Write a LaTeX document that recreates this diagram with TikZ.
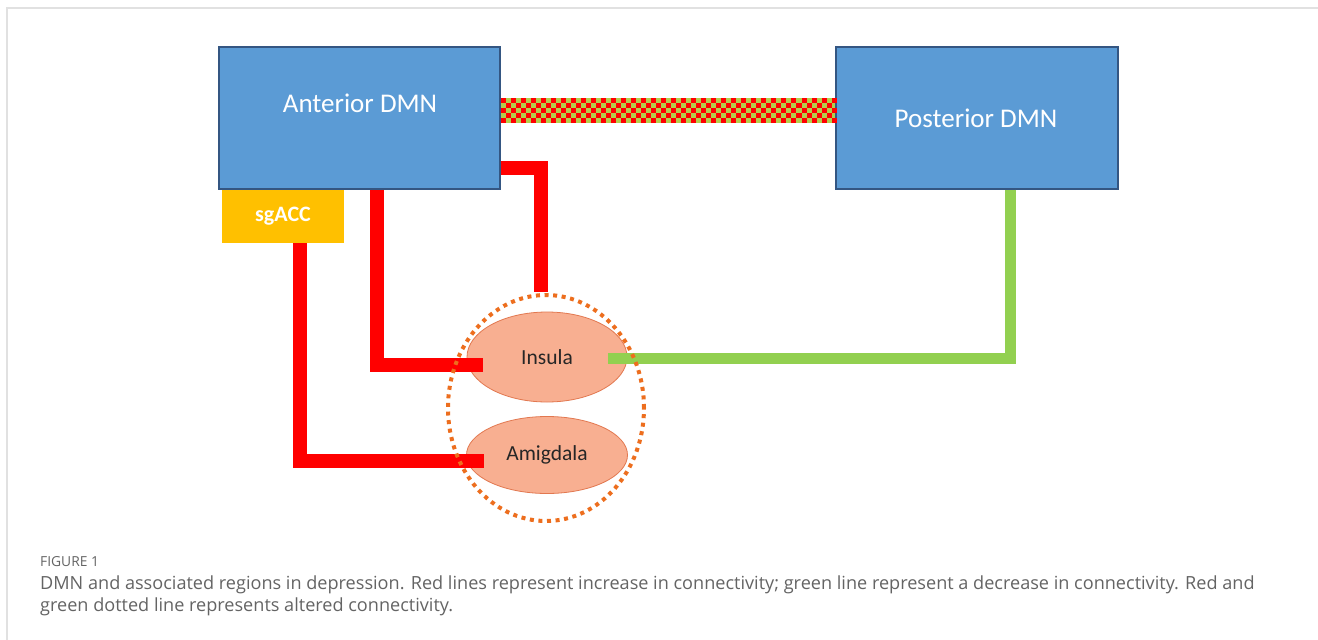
\documentclass[tikz,border=0pt]{standalone}
\usepackage{fontspec}
\setmainfont{Carlito}
\newfontfamily\capfont{Open Sans}
\usetikzlibrary{shapes.geometric,calc}
\definecolor{boxblue}{RGB}{91,155,213}
\definecolor{boxedge}{RGB}{52,86,130}
\definecolor{sgyellow}{RGB}{255,192,0}
\definecolor{conred}{RGB}{255,0,0}
\definecolor{congreen}{RGB}{146,208,80}
\definecolor{checkgreen}{RGB}{178,206,76}
\definecolor{ovalfill}{RGB}{248,175,145}
\definecolor{ovaledge}{RGB}{226,120,80}
\definecolor{ringorange}{RGB}{237,110,30}
\definecolor{framegray}{RGB}{225,225,225}
\definecolor{capgray}{RGB}{100,100,100}
\tikzset{
  dmnbox/.style={rectangle, draw=boxedge, line width=1.2pt, fill=boxblue, inner sep=0pt},
  dmntext/.style={text=white, font=\fontsize{27}{32}\selectfont},
  sgbox/.style={rectangle, fill=sgyellow, inner sep=0pt, text=white, font=\bfseries\fontsize{22}{26}\selectfont},
  region/.style={ellipse, draw=ovaledge, line width=0.8pt, fill=ovalfill, inner sep=0pt, text=black!85, font=\fontsize{21.5}{25}\selectfont},
  ringstyle/.style={ellipse, draw=ringorange, line width=4pt, dash pattern=on 4pt off 4.6pt, inner sep=0pt},
  redline/.style={draw=conred, line width=14pt, line join=miter},
  greenline/.style={draw=congreen, line width=11pt, line join=miter},
  capline/.style={anchor=west, inner sep=0pt, text=capgray, font=\capfont\fontsize{18.1}{21}\selectfont},
}
\begin{document}
\begin{tikzpicture}[x=1pt,y=-1pt]
\useasboundingbox (0,0) rectangle (1318,640);
\fill[white] (0,0) rectangle (1318,640);
\draw[framegray, line width=2pt] (7,640) -- (7,8) -- (1318,8);

% boxes
\node[dmnbox, minimum width=281pt, minimum height=142pt] (A) at (359.5,118) {};
\node[dmntext] (Atext) at (360,103) {Anterior DMN};
\node[dmnbox, minimum width=282pt, minimum height=142pt] (P) at (977,118) {};
\node[dmntext] (Ptext) at (976,118) {Posterior DMN};
\node[sgbox, minimum width=122pt, minimum height=53pt] (S) at (283,216.5) {sgACC};

% ellipses
\node[region, minimum width=160pt, minimum height=90pt] (I) at (547,357) {Insula};
\node[region, minimum width=161pt, minimum height=77pt] (M) at (547,455) {Amigdala};

% checkered connector
\path ($(A.east)+(0,-20.5)$) coordinate (bs);
\path ($(P.west)+(0,4.5)$) coordinate (be);
\fill[checkgreen] (bs) rectangle (be);
\foreach \i in {0,...,66}{
  \foreach \j in {0,...,4}{
    \pgfmathtruncatemacro\k{mod(\i+\j,2)}
    \ifnum\k=0
      \fill[conred] ($(bs)+(\i*5.015,\j*5)$) rectangle ++(5.015,5);
    \fi
  }
}

% red connectors
\draw[redline] ($(A.south west)+(159,0)$) |- ($(I.west)+(16,8)$);
\draw[redline] ($(S.south)+(17,0)$) |- ($(M.west)+(18,5.5)$);
\draw[redline] ($(A.south east)+(0,-22)$) -| ($(I.north)+(-6,-20)$);

% green connector
\draw[greenline] ($(P.south)+(33,0)$) |- ($(I.east)+(-19,1)$);

% dotted ring
\node[ringstyle, minimum width=196pt, minimum height=226pt] (R) at (546,408) {};

% caption
\node[capline, font=\capfont\fontsize{13.8}{16}\selectfont] (fig) at (40,562) {FIGURE 1};
\node[capline] (cap1) at (40,585) {DMN and associated regions in depression. Red lines represent increase in connectivity; green line represent a decrease in connectivity. Red and};
\node[capline] (cap2) at (40,607) {green dotted line represents altered connectivity.};
\end{tikzpicture}
\end{document}
